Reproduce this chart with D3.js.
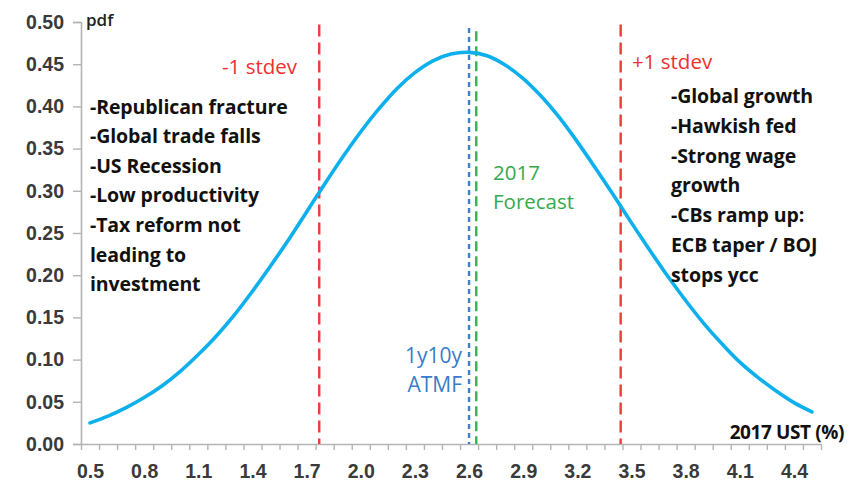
<!DOCTYPE html>
<html>
<head>
<meta charset="utf-8">
<script src="https://cdn.jsdelivr.net/npm/d3@7"></script>
<style>
  html, body { margin: 0; padding: 0; background: #fff; }
  svg { display: block; font-family: "Open Sans", Lato, sans-serif; }
</style>
</head>
<body>
<svg id="chart" width="856" height="483"></svg>
<script>
// Yield levels (%) on the category axis, one point every 0.1
const categories = [0.5, 0.6, 0.7, 0.8, 0.9, 1.0, 1.1, 1.2, 1.3, 1.4,
  1.5, 1.6, 1.7, 1.8, 1.9, 2.0, 2.1, 2.2, 2.3, 2.4,
  2.5, 2.6, 2.7, 2.8, 2.9, 3.0, 3.1, 3.2, 3.3, 3.4,
  3.5, 3.6, 3.7, 3.8, 3.9, 4.0, 4.1, 4.2, 4.3, 4.4, 4.5];

// Probability density at each yield level
const pdfValues = [0.025, 0.033, 0.043, 0.055, 0.069, 0.086, 0.106, 0.128, 0.153, 0.181,
  0.211, 0.242, 0.275, 0.308, 0.340, 0.370, 0.397, 0.421, 0.440, 0.454,
  0.462, 0.464, 0.460, 0.449, 0.433, 0.412, 0.387, 0.358, 0.327, 0.295,
  0.262, 0.230, 0.199, 0.170, 0.143, 0.119, 0.097, 0.079, 0.063, 0.049, 0.038];

// Labelled x ticks (every third category)
const xTickLabels = [0.5, 0.8, 1.1, 1.4, 1.7, 2.0, 2.3, 2.6, 2.9, 3.2, 3.5, 3.8, 4.1, 4.4];
const yTickLabels = [0, 0.05, 0.10, 0.15, 0.20, 0.25, 0.30, 0.35, 0.40, 0.45, 0.50];

// Reference markers: yield level and top of the marker line
const markerNames = ["-1 stdev", "1y10y ATMF", "2017 Forecast", "+1 stdev"];
const markerYields = [1.77, 2.60, 2.64, 3.44];
const markerTops = [0.497, 0.493, 0.489, 0.497];

// Scenario notes
const downsideNotes = ["-Republican fracture", "-Global trade falls", "-US Recession",
  "-Low productivity", "-Tax reform not", "leading to", "investment"];
const upsideNotes = ["-Global growth", "-Hawkish fed", "-Strong wage", "growth",
  "-CBs ramp up:", "ECB taper / BOJ", "stops ycc"];

const W = 856, H = 483;
const margin = { left: 81, right: 35, top: 22, bottom: 39 };
const svg = d3.select("#chart");

const step = 0.1;
const x = d3.scaleLinear()
  .domain([categories[0] - step / 2, categories[categories.length - 1] + step / 2])
  .range([margin.left, W - margin.right]);
const y = d3.scaleLinear().domain([0, 0.5]).range([H - margin.bottom, margin.top]);

const axisColor = "#b4b4b4";
const labelColor = "#3a3a3a";

// Y axis
const yAxis = svg.append("g")
  .attr("transform", `translate(${margin.left},0)`)
  .call(d3.axisLeft(y).tickValues(yTickLabels).tickFormat(d3.format(".2f")).tickSize(8).tickPadding(9));
yAxis.select(".domain").attr("stroke", axisColor).attr("stroke-width", 1.6);
yAxis.selectAll(".tick line").attr("stroke", axisColor).attr("stroke-width", 1.4);
yAxis.selectAll(".tick text")
  .attr("fill", labelColor).attr("font-size", 19.5).attr("font-weight", 600);

// X axis: tick marks on category boundaries
const boundaries = d3.range(categories.length + 1).map(i => categories[0] - step / 2 + i * step);
const xTicks = svg.append("g")
  .attr("transform", `translate(0,${H - margin.bottom})`)
  .call(d3.axisBottom(x).tickValues(boundaries).tickFormat("").tickSize(6).tickSizeOuter(0));
xTicks.select(".domain").attr("stroke", axisColor).attr("stroke-width", 1.6);
xTicks.selectAll(".tick line").attr("stroke", axisColor).attr("stroke-width", 1.4);

// X axis: labels centred on every third category
const xLabels = svg.append("g")
  .attr("transform", `translate(0,${H - margin.bottom})`)
  .call(d3.axisBottom(x).tickValues(xTickLabels).tickFormat(d3.format(".1f")).tickSize(0).tickPadding(20));
xLabels.select(".domain").remove();
xLabels.selectAll(".tick text")
  .attr("fill", labelColor).attr("font-size", 19.5).attr("font-weight", 600);

// Axis titles
svg.append("text").attr("x", margin.left + 5).attr("y", 26)
  .attr("font-size", 17).attr("font-weight", 600).attr("fill", "#222").text("pdf");
svg.append("text").attr("x", 844).attr("y", 439).attr("text-anchor", "end")
  .attr("font-size", 19).attr("font-weight", 700).attr("letter-spacing", -0.4)
  .attr("fill", "#111").text("2017 UST (%)");

// Marker lines
const markerStyles = [
  { color: "#f23a3a", dash: "12,6", width: 2.4 },
  { color: "#3f7fcb", dash: "5,4", width: 2.4 },
  { color: "#37b04f", dash: "10,5", width: 2.4 },
  { color: "#f23a3a", dash: "12,6", width: 2.4 }
];
svg.append("g").selectAll("line")
  .data(markerYields)
  .join("line")
  .attr("x1", d => x(d)).attr("x2", d => x(d))
  .attr("y1", (d, i) => y(markerTops[i])).attr("y2", y(0))
  .attr("stroke", (d, i) => markerStyles[i].color)
  .attr("stroke-width", (d, i) => markerStyles[i].width)
  .attr("stroke-dasharray", (d, i) => markerStyles[i].dash);

// Density curve
const line = d3.line()
  .x((d, i) => x(categories[i]))
  .y(d => y(d))
  .curve(d3.curveCatmullRom.alpha(0.5));
svg.append("path")
  .datum(pdfValues)
  .attr("fill", "none")
  .attr("stroke", "#0db0ec")
  .attr("stroke-width", 3.6)
  .attr("stroke-linecap", "round")
  .attr("d", line);

// Marker labels
const redText = "#f0302e";
svg.append("text").attr("x", 222).attr("y", 74)
  .attr("font-size", 20.5).attr("fill", redText).text(markerNames[0]);
svg.append("text").attr("x", 632).attr("y", 69)
  .attr("font-size", 20.5).attr("fill", redText).text(markerNames[3]);

const blueLabel = svg.append("text").attr("text-anchor", "end").attr("font-size", 21).attr("fill", "#3a7cc7");
blueLabel.append("tspan").attr("x", 462).attr("y", 363).text(markerNames[1].split(" ")[0]);
blueLabel.append("tspan").attr("x", 462).attr("y", 392).text(markerNames[1].split(" ")[1]);

const greenLabel = svg.append("text").attr("font-size", 20.5).attr("fill", "#35a94d");
greenLabel.append("tspan").attr("x", 493).attr("y", 180).text(markerNames[2].split(" ")[0]);
greenLabel.append("tspan").attr("x", 493).attr("y", 209).text(markerNames[2].split(" ")[1]);

// Scenario notes
function notes(lines, x0, y0, dy) {
  svg.append("g").selectAll("text")
    .data(lines)
    .join("text")
    .attr("x", x0)
    .attr("y", (d, i) => y0 + i * dy)
    .attr("font-size", 19.5)
    .attr("font-weight", 700)
    .attr("letter-spacing", -0.1)
    .attr("fill", "#111")
    .text(d => d);
}
notes(downsideNotes, 90, 113.5, 29.6);
notes(upsideNotes, 671, 103, 29.8);
</script>
</body>
</html>
